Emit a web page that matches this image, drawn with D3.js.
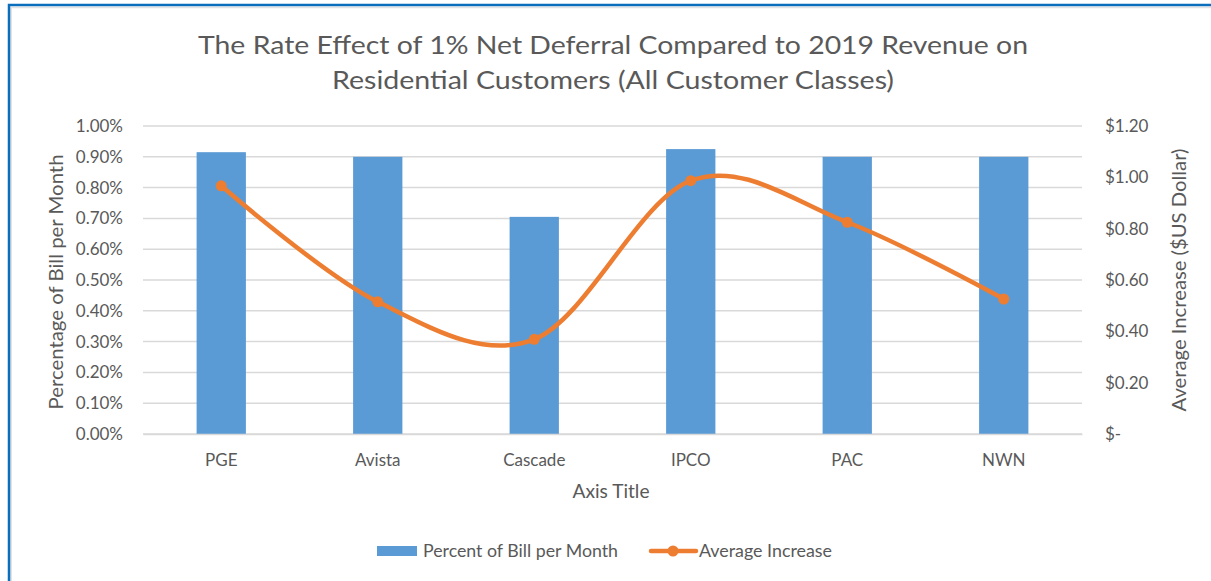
<!DOCTYPE html>
<html>
<head>
<meta charset="utf-8">
<script src="https://cdn.jsdelivr.net/npm/d3@7"></script>
<style>
  html, body { margin: 0; padding: 0; background: #fff; }
  svg { display: block; font-family: Lato, "Open Sans", sans-serif; }
</style>
</head>
<body>
<svg id="chart" width="1211" height="581"></svg>
<script>
const categories = ["PGE", "Avista", "Cascade", "IPCO", "PAC", "NWN"];
const percentOfBill = [0.915, 0.90, 0.705, 0.925, 0.90, 0.90]; // percent
const averageIncrease = [0.967, 0.515, 0.369, 0.987, 0.825, 0.526]; // US dollars
const leftTicks = [0, 0.1, 0.2, 0.3, 0.4, 0.5, 0.6, 0.7, 0.8, 0.9, 1.0];
const rightTicks = [0, 0.2, 0.4, 0.6, 0.8, 1.0, 1.2];
const titleLines = [
  "The Rate Effect of 1% Net Deferral Compared to 2019 Revenue on",
  "Residential Customers (All Customer Classes)"
];
const seriesNames = ["Percent of Bill per Month", "Average Increase"];

const svg = d3.select("#chart");
const textColor = "#595959";
const barColor = "#5b9bd5";
const lineColor = "#ed7d31";
const gridColor = "#d9d9d9";

const plot = { left: 143, right: 1082, top: 126, bottom: 434 };

// frame
svg.append("line").attr("x1", 11).attr("x2", 11).attr("y1", 7).attr("y2", 581)
  .attr("stroke", "#e3e3e3").attr("stroke-width", 2);
svg.append("line").attr("x1", 11).attr("x2", 1211).attr("y1", 7.5).attr("y2", 7.5)
  .attr("stroke", "#e3e3e3").attr("stroke-width", 1.5);
svg.append("path").attr("d", "M9,581 V5 H1211")
  .attr("fill", "none").attr("stroke", "#0a6ebd").attr("stroke-width", 2.5);

const x = d3.scaleBand().domain(categories).range([plot.left, plot.right])
  .paddingInner(0.685).paddingOuter(0.3425);
const yL = d3.scaleLinear().domain([0, 1.0]).range([plot.bottom, plot.top]);
const yR = d3.scaleLinear().domain([0, 1.2]).range([plot.bottom, plot.top]);

// gridlines
svg.append("g").selectAll("line").data(leftTicks).join("line")
  .attr("x1", plot.left).attr("x2", plot.right)
  .attr("y1", d => yL(d)).attr("y2", d => yL(d))
  .attr("stroke", gridColor).attr("stroke-width", 1.5);

// left axis
const axL = svg.append("g").attr("transform", `translate(${plot.left - 20},0)`)
  .call(d3.axisLeft(yL).tickValues(leftTicks).tickSize(0).tickPadding(0)
    .tickFormat(d => d.toFixed(2) + "%"));
axL.select(".domain").remove();
axL.selectAll("text").attr("fill", textColor).attr("font-size", 17)
  .attr("font-family", "Lato, sans-serif");

// right axis
const axR = svg.append("g").attr("transform", `translate(1105,0)`)
  .call(d3.axisRight(yR).tickValues(rightTicks).tickSize(0).tickPadding(0)
    .tickFormat(d => d === 0 ? "$-" : "$" + d.toFixed(2)));
axR.select(".domain").remove();
axR.selectAll("text").attr("fill", textColor).attr("font-size", 17)
  .attr("font-family", "Lato, sans-serif");

// bars
svg.append("g").selectAll("rect").data(categories).join("rect")
  .attr("x", d => x(d))
  .attr("width", x.bandwidth())
  .attr("y", (d, i) => yL(percentOfBill[i]))
  .attr("height", (d, i) => yL(0) - yL(percentOfBill[i]))
  .attr("fill", barColor);

// x axis
const axX = svg.append("g").attr("transform", `translate(0,${plot.bottom})`)
  .call(d3.axisBottom(x).tickSize(0).tickPadding(20));
axX.select(".domain").attr("stroke", gridColor).attr("stroke-width", 1.5);
axX.selectAll("text").attr("fill", textColor).attr("font-size", 17)
  .attr("font-family", "Lato, sans-serif");

// line
const pts = categories.map((c, i) => [x(c) + x.bandwidth() / 2, yR(averageIncrease[i])]);
svg.append("path").datum(pts)
  .attr("d", d3.line().curve(d3.curveCardinal.tension(0)))
  .attr("fill", "none").attr("stroke", lineColor).attr("stroke-width", 4.5)
  .attr("stroke-linecap", "round");
svg.append("g").selectAll("circle").data(pts).join("circle")
  .attr("cx", d => d[0]).attr("cy", d => d[1]).attr("r", 5.5).attr("fill", lineColor);

// title
const titleWidths = [830, 562];
svg.append("g").selectAll("text").data(titleLines).join("text")
  .attr("x", 613).attr("y", (d, i) => 54 + i * 35)
  .attr("text-anchor", "middle").attr("fill", textColor)
  .attr("font-size", 25)
  .attr("textLength", (d, i) => titleWidths[i]).attr("lengthAdjust", "spacingAndGlyphs")
  .text(d => d);

// axis titles
svg.append("text").attr("transform", "translate(63,282) rotate(-90)")
  .attr("text-anchor", "middle").attr("fill", textColor).attr("font-size", 19)
  .attr("textLength", 255).attr("lengthAdjust", "spacingAndGlyphs")
  .text("Percentage of Bill per Month");
svg.append("text").attr("transform", "translate(1186,280) rotate(-90)")
  .attr("text-anchor", "middle").attr("fill", textColor).attr("font-size", 19)
  .attr("textLength", 263).attr("lengthAdjust", "spacingAndGlyphs")
  .text("Average Increase ($US Dollar)");
svg.append("text").attr("x", 611).attr("y", 498)
  .attr("text-anchor", "middle").attr("fill", textColor).attr("font-size", 19)
  .attr("textLength", 77).attr("lengthAdjust", "spacingAndGlyphs")
  .text("Axis Title");

// legend
const lg = svg.append("g");
lg.append("rect").attr("x", 377).attr("y", 546).attr("width", 40).attr("height", 10)
  .attr("fill", barColor);
lg.append("text").attr("x", 423).attr("y", 557).attr("fill", textColor)
  .attr("font-size", 17).attr("textLength", 195).attr("lengthAdjust", "spacingAndGlyphs")
  .text(seriesNames[0]);
lg.append("line").attr("x1", 651).attr("x2", 696).attr("y1", 551).attr("y2", 551)
  .attr("stroke", lineColor).attr("stroke-width", 4.5).attr("stroke-linecap", "round");
lg.append("circle").attr("cx", 673).attr("cy", 551).attr("r", 5.5).attr("fill", lineColor);
lg.append("text").attr("x", 699).attr("y", 557).attr("fill", textColor)
  .attr("font-size", 17).attr("textLength", 133).attr("lengthAdjust", "spacingAndGlyphs")
  .text(seriesNames[1]);
</script>
</body>
</html>
